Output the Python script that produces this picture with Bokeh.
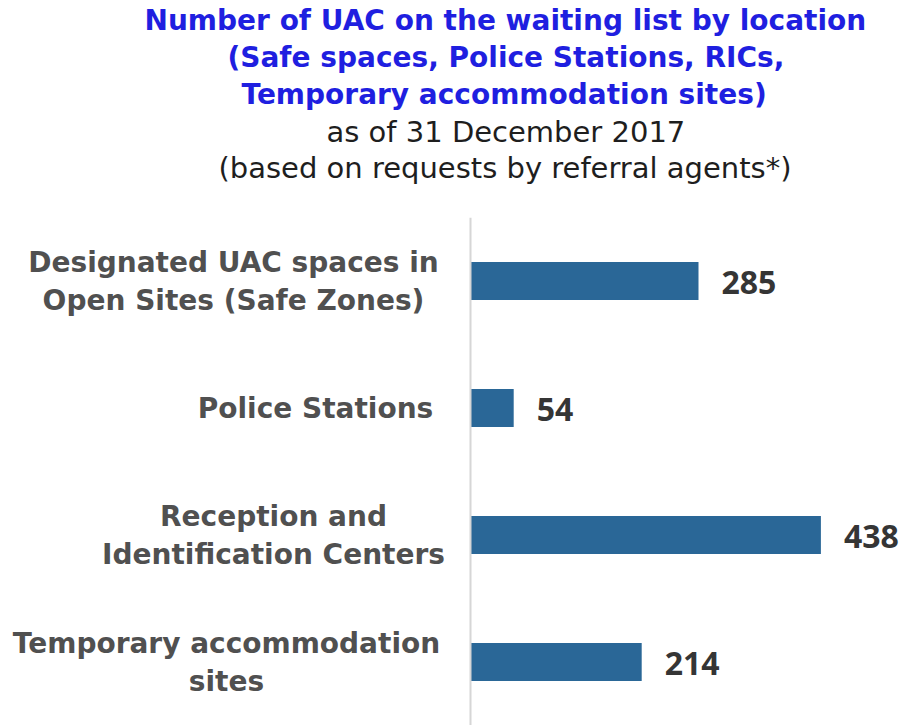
from bokeh.plotting import figure
from bokeh.models import ColumnDataSource, Span, FactorRange, Range1d, Title
from bokeh.core.properties import value
from bokeh.embed import file_html
from bokeh.resources import INLINE

# ---- data ----
title_bold_lines = [
    "Number of UAC on the waiting list by location",
    "(Safe spaces, Police Stations, RICs,",
    "Temporary accommodation sites)",
]
title_plain_lines = [
    "as of 31 December 2017",
    "(based on requests by referral agents*)",
]
categories = [
    "Designated UAC spaces in\nOpen Sites (Safe Zones)",
    "Police Stations",
    "Reception and\nIdentification Centers",
    "Temporary accommodation\nsites",
]
values = [285, 54, 438, 214]

# ---- style ----
BAR_COLOR = "#2A6797"
LABEL_COLOR = "#505050"
VALUE_COLOR = "#353535"
TITLE_BLUE = "#1F1FE0"
TITLE_BLACK = "#1E1E1E"
label_center_px = [-237, -155, -197, -244]   # block centres relative to the axis line
LINE_H = 38
title_left_px = [144, 227, 241, 326, 218]     # left offset of each title line
title_standoff = [2.4, 2.4, 2.4, 0, 0]
SPACER_STANDOFF = 29.8

W, H = 906, 725
TOP = 217
AXIS_PX = 470
PX_PER_UNIT = 0.8

p = figure(
    width=W, height=H,
    y_range=FactorRange(factors=list(reversed(categories))),
    x_range=Range1d(-AXIS_PX / PX_PER_UNIT, (W - AXIS_PX) / PX_PER_UNIT),
    output_backend="svg", toolbar_location=None,
    min_border_left=0, min_border_right=0, min_border_bottom=0, min_border_top=TOP,
)
p.xaxis.visible = False
p.yaxis.visible = False
p.grid.visible = False
p.outline_line_color = None
p.background_fill_color = "white"
p.border_fill_color = "white"

p.add_layout(Span(location=0, dimension="height", line_color="#D6D6D6", line_width=2))

src = ColumnDataSource(dict(cat=categories, val=values, txt=[str(v) for v in values]))
p.hbar(y="cat", left=0, right="val", height=0.30, source=src,
       fill_color=BAR_COLOR, line_color=None)

p.text(x="val", y="cat", text="txt", source=src, x_offset=23, y_offset=1,
       text_font=value("Open Sans"), text_font_style="bold", text_font_size="32px",
       text_color=VALUE_COLOR, text_align="left", text_baseline="middle")

# category labels: lines centred within each block
lx, ly, lt, lxo, lyo = [], [], [], [], []
for cat, cx in zip(categories, label_center_px):
    lines = cat.split("\n")
    n = len(lines)
    for i, line in enumerate(lines):
        lx.append(0)
        ly.append(cat)
        lt.append(line)
        lxo.append(cx)
        lyo.append((i - (n - 1) / 2) * LINE_H)
lab = ColumnDataSource(dict(x=lx, y=ly, t=lt, xo=lxo, yo=lyo))
p.text(x="x", y="y", text="t", x_offset="xo", y_offset="yo", source=lab,
       text_font=value("DejaVu Sans"), text_font_style="bold", text_font_size="28px",
       text_color=LABEL_COLOR, text_align="center", text_baseline="middle")

# spacer between the title block and the plot area
p.add_layout(Title(text=" ", text_font_size="1px", standoff=SPACER_STANDOFF,
                   text_color="white"), "above")

# title lines: Titles stack outward from the frame, so add the last line first
all_lines = title_bold_lines + title_plain_lines
for i in reversed(range(len(all_lines))):
    bold = i < len(title_bold_lines)
    p.add_layout(Title(
        text=all_lines[i], align="left", offset=title_left_px[i],
        standoff=title_standoff[i],
        text_font="DejaVu Sans", text_font_style="bold" if bold else "normal",
        text_font_size="28px" if bold else "29px",
        text_color=TITLE_BLUE if bold else TITLE_BLACK,
    ), "above")

open("out.html", "w").write(file_html(p, INLINE))
